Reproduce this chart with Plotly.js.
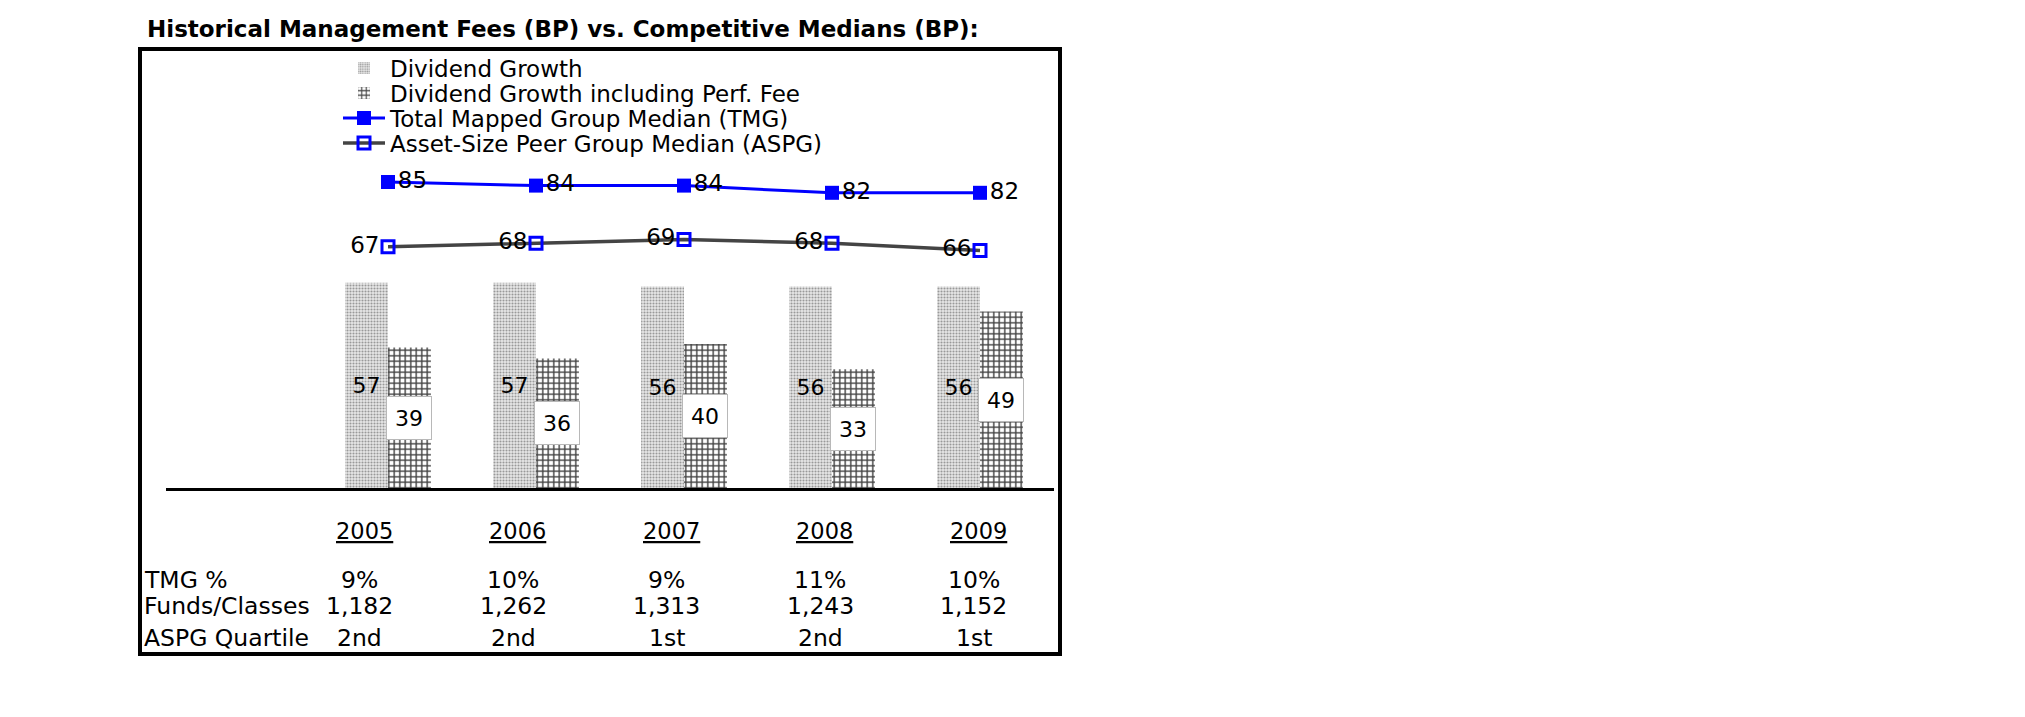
<!DOCTYPE html>
<html>
<head>
<meta charset="utf-8">
<script src="https://cdn.plot.ly/plotly-3.0.1.min.js"></script>
<style>
  html, body { margin: 0; padding: 0; background: #ffffff; }
  #chart { width: 2025px; height: 717px; }
</style>
</head>
<body>
<div id="chart"></div>
<script>
// ---- data ----
const years = ['2005', '2006', '2007', '2008', '2009'];
const divGrowth = [57, 57, 56, 56, 56];
const divGrowthPerf = [39, 36, 40, 33, 49];
const tmgMedian = [85, 84, 84, 82, 82];
const aspgMedian = [67, 68, 69, 68, 66];
const tmgPct = ['9%', '10%', '9%', '11%', '10%'];
const fundsClasses = ['1,182', '1,262', '1,313', '1,243', '1,152'];
const aspgQuartile = ['2nd', '2nd', '1st', '2nd', '1st'];
const rowLabels = ['TMG %', 'Funds/Classes', 'ASPG Quartile'];
const seriesNames = [
  'Dividend Growth',
  'Dividend Growth including Perf. Fee',
  'Total Mapped Group Median (TMG)',
  'Asset-Size Peer Group Median (ASPG)'
];

// ---- chart ----
const FONT = 'DejaVu Sans, Verdana, sans-serif';
const xs = years.map((_, i) => i);
const BW = 0.29;

const traces = [
  {
    type: 'bar', name: seriesNames[0], legend: 'legend',
    x: xs, y: divGrowth, width: BW, offset: -BW,
    marker: {
      color: '#e6e6e6',
      line: { width: 0 },
      pattern: { shape: '.', fgcolor: '#999999', bgcolor: '#e8e8e8', size: 3, solidity: 0.4 }
    },
    text: divGrowth.map(String), textposition: 'inside', insidetextanchor: 'middle',
    textangle: 0, constraintext: 'none',
    insidetextfont: { family: FONT, size: 22, color: '#000' },
    hoverinfo: 'skip'
  },
  {
    type: 'bar', name: seriesNames[1], legend: 'legend2',
    x: xs, y: divGrowthPerf, width: BW, offset: 0,
    marker: {
      color: '#ffffff',
      line: { width: 0 },
      pattern: { shape: '+', fgcolor: '#444444', bgcolor: '#ffffff', size: 5.5, solidity: 0.45 }
    },
    hoverinfo: 'skip'
  },
  {
    type: 'scatter', mode: 'lines+markers+text', name: seriesNames[2], legend: 'legend3',
    x: xs, y: tmgMedian,
    line: { color: '#0000ff', width: 3 },
    marker: { symbol: 'square', size: 14, color: '#0000ff' },
    text: tmgMedian.map(String), textposition: 'middle right',
    textfont: { family: FONT, size: 23, color: '#000' },
    cliponaxis: false, hoverinfo: 'skip'
  },
  {
    type: 'scatter', mode: 'lines+markers+text', name: seriesNames[3], legend: 'legend4',
    x: xs, y: aspgMedian,
    line: { color: '#444444', width: 3.5 },
    marker: { symbol: 'square-open', size: 12, color: '#0000ff', line: { width: 3, color: '#0000ff' } },
    text: aspgMedian.map(String), textposition: 'middle left',
    textfont: { family: FONT, size: 23, color: '#000' },
    cliponaxis: false, hoverinfo: 'skip'
  }
];

// plot-area pixel geometry helpers (layout only)
const M = { l: 166, r: 971, t: 56, b: 229 };
const plotH = 717 - M.t - M.b;
const plotW = 2025 - M.l - M.r;
const py = px => (717 - M.b - px) / plotH;      // pixel row -> paper y
const pxX = px => (px - M.l) / plotW;           // pixel col -> paper x

const annotations = [];
// labels of the second bar series, white boxes
divGrowthPerf.forEach((v, i) => {
  annotations.push({
    xref: 'x', yref: 'y', x: i + BW / 2, y: v / 2,
    text: String(v), showarrow: false,
    font: { family: FONT, size: 22, color: '#000' },
    bgcolor: '#ffffff', bordercolor: '#b8b8b8', borderwidth: 1, borderpad: 5,
    width: 34, height: 32, xanchor: 'center', yanchor: 'middle'
  });
});
// table below the axis
const TF = 23.5;
const colX = i => i * 1.037 - 0.19;
const rowY = [py(580), py(606), py(638)];
years.forEach((yr, i) => {
  annotations.push({
    xref: 'x', yref: 'paper', x: colX(i) + 0.03, y: py(531),
    text: '<u>' + yr + '</u>', showarrow: false,
    font: { family: FONT, size: 22.5, color: '#000' }, xanchor: 'center', yanchor: 'middle'
  });
});
[tmgPct, fundsClasses, aspgQuartile].forEach((row, r) => {
  row.forEach((val, i) => {
    annotations.push({
      xref: 'x', yref: 'paper', x: colX(i), y: rowY[r],
      text: val, showarrow: false,
      font: { family: FONT, size: TF, color: '#000' }, xanchor: 'center', yanchor: 'middle'
    });
  });
  annotations.push({
    xref: 'paper', yref: 'paper', x: pxX(142), y: rowY[r],
    text: rowLabels[r], showarrow: false,
    font: { family: FONT, size: TF, color: '#000' }, xanchor: 'left', yanchor: 'middle'
  });
});

const legendBase = {
  xref: 'paper', yref: 'paper', x: pxX(338), xanchor: 'left', yanchor: 'middle',
  bgcolor: 'rgba(0,0,0,0)', borderwidth: 0, itemwidth: 42,
  font: { family: FONT, size: 23, color: '#000' }
};

const layout = {
  width: 2025, height: 717,
  margin: M,
  paper_bgcolor: '#ffffff', plot_bgcolor: '#ffffff',
  font: { family: FONT, size: 22, color: '#000' },
  title: {
    text: '<b>Historical Management Fees (BP) vs. Competitive Medians (BP):</b>',
    font: { family: FONT, size: 23, color: '#000' },
    x: 147 / 2025, xanchor: 'left', xref: 'container',
    y: 1 - 29 / 717, yanchor: 'middle', yref: 'container'
  },
  showlegend: true,
  legend: Object.assign({}, legendBase, { y: py(68) }),
  legend2: Object.assign({}, legendBase, { y: py(93) }),
  legend3: Object.assign({}, legendBase, { y: py(118) }),
  legend4: Object.assign({}, legendBase, { y: py(143) }),
  barmode: 'overlay',
  xaxis: {
    range: [-1.5, 4.5], showgrid: false, zeroline: false,
    showticklabels: false, ticks: '',
    showline: true, linecolor: '#000', linewidth: 2.5, fixedrange: true
  },
  yaxis: {
    range: [0, 120], visible: false, showgrid: false, zeroline: false, fixedrange: true
  },
  shapes: [{
    type: 'rect', xref: 'paper', yref: 'paper',
    x0: pxX(140), x1: pxX(1060), y0: py(654), y1: py(49),
    line: { color: '#000', width: 4 }, fillcolor: 'rgba(0,0,0,0)', layer: 'above'
  }],
  annotations: annotations
};

Plotly.newPlot('chart', traces, layout, { staticPlot: true, displayModeBar: false });
</script>
</body>
</html>
